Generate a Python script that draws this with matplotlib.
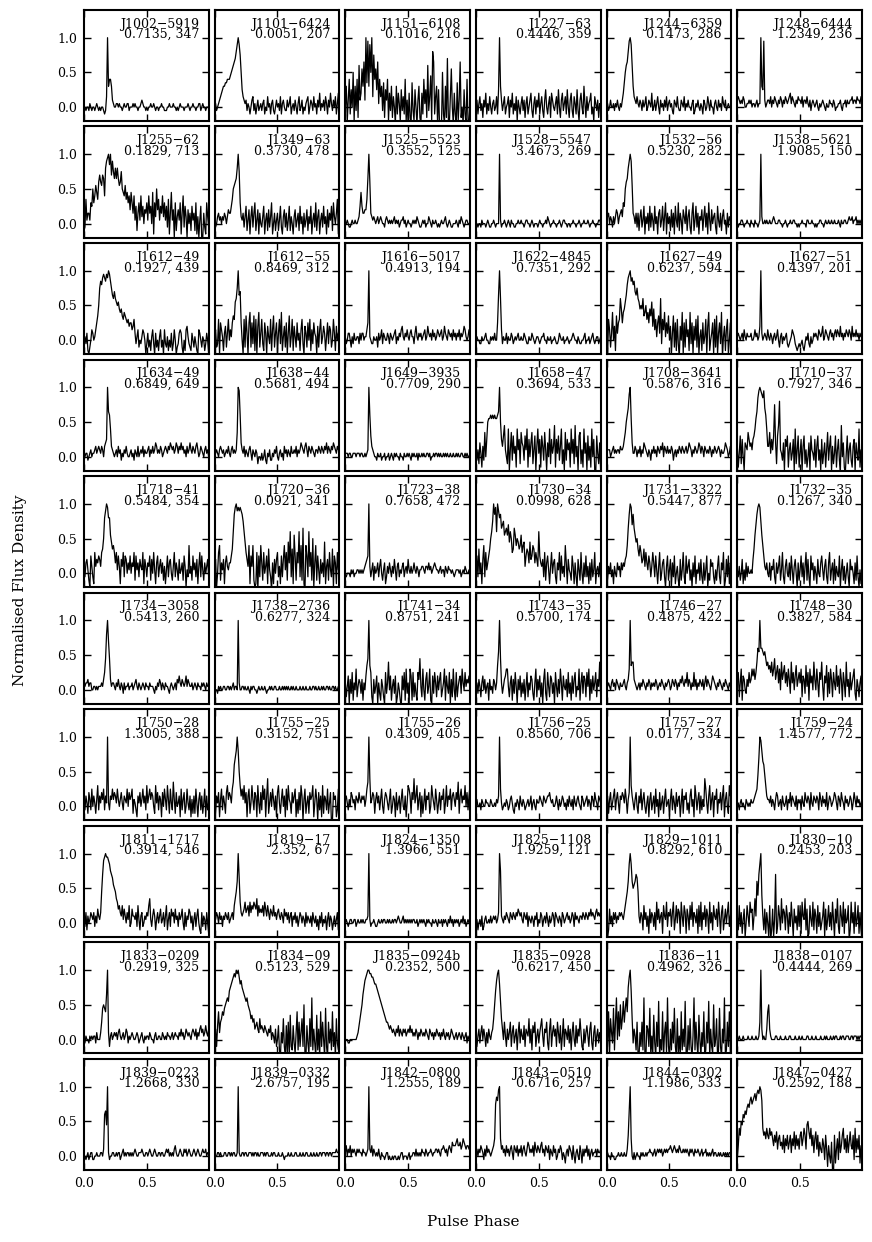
#!/usr/bin/python3

"""Profile impulsów 60 pulsarów: znormalizowana gęstość strumienia od fazy."""

import numpy as np
import matplotlib
matplotlib.use('Agg')
import matplotlib.pyplot as plt


NAZWY = [
    'J1002−5919', 'J1101−6424', 'J1151−6108', 'J1227−63', 'J1244−6359', 'J1248−6444',
    'J1255−62', 'J1349−63', 'J1525−5523', 'J1528−5547', 'J1532−56', 'J1538−5621',
    'J1612−49', 'J1612−55', 'J1616−5017', 'J1622−4845', 'J1627−49', 'J1627−51',
    'J1634−49', 'J1638−44', 'J1649−3935', 'J1658−47', 'J1708−3641', 'J1710−37',
    'J1718−41', 'J1720−36', 'J1723−38', 'J1730−34', 'J1731−3322', 'J1732−35',
    'J1734−3058', 'J1738−2736', 'J1741−34', 'J1743−35', 'J1746−27', 'J1748−30',
    'J1750−28', 'J1755−25', 'J1755−26', 'J1756−25', 'J1757−27', 'J1759−24',
    'J1811−1717', 'J1819−17', 'J1824−1350', 'J1825−1108', 'J1829−1011', 'J1830−10',
    'J1833−0209', 'J1834−09', 'J1835−0924b', 'J1835−0928', 'J1836−11', 'J1838−0107',
    'J1839−0223', 'J1839−0332', 'J1842−0800', 'J1843−0510', 'J1844−0302', 'J1847−0427',
]

# okresy [s] jako tekst, żeby zachować liczbę cyfr
OKRESY = [
    '0.7135', '0.0051', '0.1016', '0.4446', '0.1473', '1.2349',
    '0.1829', '0.3730', '0.3552', '3.4673', '0.5230', '1.9085',
    '0.1927', '0.8469', '0.4913', '0.7351', '0.6237', '0.4397',
    '0.6849', '0.5681', '0.7709', '0.3694', '0.5876', '0.7927',
    '0.5484', '0.0921', '0.7658', '0.0998', '0.5447', '0.1267',
    '0.5413', '0.6277', '0.8751', '0.5700', '0.4875', '0.3827',
    '1.3005', '0.3152', '0.4309', '0.8560', '0.0177', '1.4577',
    '0.3914', '2.352', '1.3966', '1.9259', '0.8292', '0.2453',
    '0.2919', '0.5123', '0.2352', '0.6217', '0.4962', '0.4444',
    '1.2668', '2.6757', '1.2555', '0.6716', '1.1986', '0.2592',
]

DM = [
    347, 207, 216, 359, 286, 236,
    713, 478, 125, 269, 282, 150,
    439, 312, 194, 292, 594, 201,
    649, 494, 290, 533, 316, 346,
    354, 341, 472, 628, 877, 340,
    260, 324, 241, 174, 422, 584,
    388, 751, 405, 706, 334, 772,
    546, 67, 551, 121, 610, 203,
    325, 529, 500, 450, 326, 269,
    330, 195, 189, 257, 533, 188,
]

# Profile, 128 binów fazy na profil.
# Każdy znak to poziom: '#' = -0.25, 'a' = -0.20, 'e' = 0.0, 'o' = 0.5, 'y' = 1.0 (krok 0.05).
PROFILE = [
    'eedeedfedeedefed edeedcdhykmmkgfe effefeedefeeffde eefefeedeefgfeed edeefeefedeedeef eedddeefeeefeede defeeedeeefedeef eedeeffdefeedeee',
    'gfdefghijkkllmmm nopqrsuwywtojhgf gdfeceghdfcegdef dfgcedhefcfgdceg efdhcfgeddgefhce fdgecfhdegcedfgh cegfdhefcgeidfeg dhfcgeifdgehcfig',
    'ekagmcjeoakdmbqg ipkrgylxkwoyhtmp jrfmhkdlbjgmaidk bhe#kcifajdhcmag #ib#ldaje#gkb#ic mfjbqdhnaurchk#j #a#oc#kbsa#hpe#i c#lagrbe#jc#ma#f',
    'egcfhdfbgeicfdhe cfgdehcjykgdfhce fhbgeicfdhagecfh dgbfhcegidbfhcge icfhdbgjecfhbige dfhcjebgidfhcjeb gidbhfcjdagieckf bhdfgiceahfdgbfe',
    'efdegeefdfegedfe giloqruxywqkhgfh fegfdgefhdegfeid egdfhecgefdgehdf gefdcgfeheddgfeh dfegeedfgcdfeged fecgfdehfdgeecfg edgefdhfegdefeef',
    'ghgfgfhgeeffgfge ffefgeffykjxgefg gfhegfhgfegfhgeg fhgfghifhgfegfhg gfheggfhfegdfgfe fgedfefgfedfeegf fegfdeeffgedffge gffgghfggfhggfhf',
    'cdlfhhfkjokmpnlq sqpsrmuwxyvyswtr ururpqtonmplnkmi nkhmfjchkfmgjeih kfmhjenbkgoilfjh mgkfjdlbhnfiakcg ifkbhmdjgaiehcjf hckbgafj#ahdbkgd',
    'fdeghfgegfhgegih hjlopqruytkgfhdg jcfibgjdhkcfibhe dgjbfhcidgkbehcf hcfjdbgidhcfjcge bgidfhcjegbhdfic gejbfhdkcgibfhdj egbidhfjckgehlbg',
    'eefeddefeefeefgj njhhiilryqhgfgfe fgefgfeedfgfefef efgefefdeffgefde feedefefegfeddef efdeegfedfeefede defeefgedefeddee efedfegfedeffeee',
    'eedeedfeeedefedd eefedeeeyfdeefed efedfeeddeefeefe edeffeedefedeeed efeedeefegfedeef eedeefedeffeedee deefeedeefedeefe eefedeefeedeeffe',
    'fghegfdgegiheghi gkjoqruwywphgehd hcgidfjbgehcjdhf cjegbhidfjcgkbhe gcidhbjfdkchfbig ejcgidbhkcfjdhbg ficgjdhbkfcieghd bjfdhcgiefbhdgfe',
    'edeeffedeefeedfe edfeedefygeefefe efeefgfeeeffeede efedeefeeffeeded eefeeedffeeefeed edeeffeedefeefee feefeeefedfeeffe efgffgeffgefefef',
    'efdgbacehgefhjlo tvuwxwvxwyxvtrqs qpopnmnlkmlkjkij jhikgdfhcedfhgea dgcebfhdagcebfhc eahdcfbecgbdheac dghgcaebhifdcbge cfdbahgecfebdgea',
    'ghcdkajhfbgicgke hfjlkpqtyrsjeakc lgajmcjdlbkaimcg kdbjgaifdkbhlcgj agkdmbficjaglcfk bifcjegbhkdaigcj ekbhdjgfaichkdfi gbfjdihcekgbiegh',
    'fdeggecfdgeeffdg eggeffhjyfeddfee fcgefhdgfeegfdgf efghdfegfhifegfh feghffdgifegfgef ghefigfgehfgefhg fghefigfehgfgehf gegfhegfgihfefhg',
    'ffeeddfeefgeeddf efegeejryqhdfeeg dfeegfdefefgeefe egfeddfeegfedeff edeffgeedfeefdee feddegfeefdeefed eefgfeedfeddeefg deefdefgedeffdef',
    '#akhcgmeiblgjkqn jmnpruwxyvwuvsrt qpnonqlmokmjnlpi nhkfjlgqdkhmfjgl eiaglcjbkd#iemaj ckfhbmdjaiekclaf hbjdfkaimbegjakc lagjdm#fibhkaejd',
    'fgfefgehfegfffge efhfgefiygefgfeh fegfdfgefhecfgdf efgdcdefhgfdcbcd cdecbdfegdcfdegf gfehgfgiefhgfegh fgeghfhgfifgegfh gfhgeifgfhfgegff',
    'deffdefgeffghfgh gfhgehijyrqmhgfe fgehfgdfegfhfeef gefdgfehefgfhegf fghegfhfgihfgfhg efghgfhgihghfgih fhgighfgehfgigfh gfhigefhgfeghfge',
    'efgfeghgfgefgfhf eghfgfglyxqigfhe gfeghfdgfegfceed fdegdcfegddfegfh edfgefdhfgegfehf fgfhegfgihgfhige hgfhgfeggfhgfhgf hgifhgfhgihgfhgg',
    'fffeffeefffefffe ffeefefgyqkhgfee dfeefdeefdeefdef edfefeedfeedfeef efedfefeefdfeefe feeffefdeefeffef efeefefefeefeefe efefeeffeefefeef',
    'hdgcifbhdlejoppq pqpqppqryojhknge cmagldkfhbmgjcli hdkgmbjeilcgkahm fjbkhdlgaiemcjfh nbjfkdhmcgaldjgi bmfjcnehaklcgbmf iakdhbmeja#kfcia',
    'fgggefghfgfggfhg ghjloqswypiffhge gfhegfihgfegfdgf hfgehgfhgiehgfhf gfhgdfgegfhgfhgf ghfgihgegfhgfgih fhgehgfgfhgegfhg fghgegffgihgefhg',
    'hbfkcjeaihgljhig jkmprvxyxwvxsqmh hlfjgkticknugfdi ajhkbgidfjamcgkb fjahkcgbeiakgfdj bhkdgajcfibgldhk ahcfkbgjdaneib#f kcgidbhjaifdmbga',
    'gdhifcajgdbkgihj igklouwyxuupnlmk hkfjgbigkdjiehfj ehgkcjfhdigfkbig dhgjciekfbhjdgie hcgbfjdhiecgkdhf ciefhcjgafdmegcj fhdibgkdjfchegid',
    'hiaekmchfibhjgfh hjlqvxywxwxwvtqn kigmbjgmcabk#jdm hckegjblfd#hbiei kdgbjdimfkcnhqdl bpjckhqdmcrb#mjd qgkcoahmcjfbiehd nbgickfdlajhbkfi',
    'ddeeedfefdeeffef efefghijygdfhcge fhdgiecfhbdgehfd geifcghdfeghdfge ifegefhfegfdffgg feggfhfgefghgffe fgeffdgfegffefed efffefdefegfeefd',
    'cjdlehbimdkfhjlo qtyvxqywuvrstpqr psnqoklrpmonlmpk mngjlkhnijmlhkig qjhgidkchjfbgkeh idbhfkcjegdmhbif ecjgbhdaifckebhd jdgbhcidfkbfgdhc',
    'fcgehdfbgedhfgdh fhgijmrvyxsvrpno ljmkhilgkhfjhdgk hdjfbgkcehidagjc fiahdjbegcaicfkd bjegicfahdjbfehc idbhcfjaecighdbf cgjdbhfkacidjbhg',
    'fdgceibfchdgeefe ilpsvxyxtpmjgfhe dhcgfidbhegjcfkd bgiedhcjfbgieahc fjdhbgkcidajfhcg ebiedhjfcgidbhkc fhbicgedjaficgbe hdaifgebhcjdafbd',
    'ffgghfggeeffefef ffgfhjnuysnhfggf egfhfegfdgeffgef fgefghfegfefgfeg ffegfffedfegfhge gfegffedfgfefgeh gigfhgfgifhgffge fgfegffegfgfegff',
    'eeedfefeeffeeffe fefgeffeygeeffef eefedfeffeedefee feefedeefefeeffe eefeefefefefeefe feefeeefeefeefee efeeffefeefeefef eeffefeeffefeeff',
    'gcfiahdjbgekcfhg dhbgeilnyljcahdf iagdbhfcajdgmeib fhdiacgeb#iejbkd gakibjcgdbjhnfck ebhjdfkbaidjgcie hjcegkbifdjahcke bjcfhidkgejfhgie',
    'egdhfcgiehdfgbhe fdhgeglpyngdfhik kfcgibhdjfaheicg dhbfjcgeihdbgkch eicgahkdbjfcihdg ajfchdkgbifehcjd gbidhjcfekbgjdih cjfkbhdiegjchfmc',
    'efgfeghfgehgfegf fghfeghkylmmhgfe fgegfhgfegfhgegf gfhgefgfhgfegfgh gefhgfhgegfhgigf hgjfhgegfjfhegfh gfhegifhgfegihgf egfhgfegfhgfegfg',
    'gjcgkbihedhfjghk ikhjmqpyqqpopnlm kljmiknhjlgkemhj lgjfkhdmgjeilfhj gkcihdlfjbkgiemh ekgcjhmfbiglcjdk hcjgelfidkhbjgcm fhcjegikdbhfcgib',
    'gdhfcigdjehfcgkd hfigjdhfyfdhgjgi hfjgegifdhgfjeig hjcgfdbhfiegjfhd kfhjgiheckfidhgb iejgdkgcjfdlgcie fhbjdgicejfdhbgc hcjfbgidhcfjbhdf',
    'gchfibgjdhfcikgi hfjlqsuyuokhjgkf ibhjcfkgdihbkfci dkgjbhmcfiejgdhb ikfcgjehbjdkgfci fhjbgcidkhagjcfh cighkbfjgaidhbkc hgdjcfi#aighbdjc',
    'ghfdgeihfgdhgfig fhghegjlymfgihcg ifhdgjecgihfdgjc ehgbidfhcgjedhbf kjhcigmfhkdgibhc fjdhgicekhfdjgcf idhgjcfkehgjdhig eiglchjfhgkeidhk',
    'fgeefdgfeegffeeg feefegfhyjfdefeg fdeghfdcfegfdhfe gfdefgefhdfgedgf fhgfehgfghhigfge efhfdgefhgefdgeh fegdhfeghfedhgef ghegfdhgeigfdhgf',
    'fhcgidfhjdgifchg ihfjgcgiykhfdgie chfjdgiecfhbgidf hcjegbidfhcgjefg bgjdhfcieghbfjch gidfchjegbkhdgic hdgemjfchkdgibhg jcgfidhkbgieckhi',
    'efdfgefedgfefegf fghijnsyxurqnkhg gfhegfdgihefgdhf efhdgfiehgfehdgf gdhfeigfhgdifehg fhgdigehfgeidfhg efgihfdhgeigfdhf gefhgdfigehfgefg',
    'gdhcgefhgfhdgeig fhnswxyxxwvtsrpo nlkijhgjfigehfjd eiggfhdjfcghdegf hgjlfdgigcfhegie fhdgjcfhdigheifg dhfgiechdgfihegc fhdgiecbhdgfcheb',
    'gfhgehfgdgfhgfhe fghfjlnqyrkhghik hijgkhjikjilgjhi hjgkigjhfihgjghf higfhgeighfheghd gfhegdfhgegfdheg fegdhfegdfcgehdf egcfhdgfcegdfhcg',
    'efedeffeeffdefee fefeeffgyfdeefed defeefeffeefefee feffefgfeefgefef efefeffeefdefefe fedfefeedfeefedf eefdfefedfegefdf efefdefegefdefef',
    'ffcefdgcdfgeefeg efgfgefhytgfegfh gfehgfhgfhgihghf ehgfhdgfegfdgfhd fehgdfgehfdgefhg dhgfegfdhgefghfg efhgdhfgfeggfhgf hgfhgighgfhighgh',
    'eaciegdhfhegfhgh gfhjlnqvyvqopqsr ngehgcjfhdgbiehg dhckfieghbjgfkdh gidhkcfjeihbkgdj hbigcjfkdhgeibjd kchfjdigbkehcjgf idkgbhjcfiehkdgi',
    'gcjdhbfiaejgdkhi cglgqmsvymgcibhe aj#ciafsbdjgclei hcjgbhdkfaiegcjd jbkgflciabjfdkci gbjdhcegkaicfjdh ckfaieldbjgdkbie fj#ckehbkdfjbhc#',
    'edfeedfefeffdgee egjnonmrygcfgefg fgeghfefgefhgdfe fgfeefgfdefgedfe ffegfeedfgeeffee gfefegffefgefgff egfhfgefhgfgfegh gfhegfhighfgigfh',
    'fhcimgjkmlnopqps tuvwxwyxywuvtsrq pqonmkljkhijhgkh ihgihgfhgiegfdhc eib#gdkc#iaj#lcb idagmbjcgkcoa#id akcqbhd#lbh#mcje #nc#jdhbmcg#kdbh',
    'eeeddeeeeeeefgik mortvwxyyxxwwvuu tsrqponmlkjjihih ghgfhgifhgfhghfg hgighfgfhgegfhgf gfhgfehgfgegfhgf gegfhfegfgefhgfe fgefgfegfefgdfef',
    'gcfhdgiehfcgdhfe ghkosvxyupkhejfc hegjcgidfhbgjdhf eichgfkdhbigjcfh dgikfchgjdbhkcgi fhcjgdibfkchgeid hbgjecidhfkgcbhd gifchjdbgicfhdge',
    'hcmakgdnbjqemfoh kpjnqmtwyskdhfbj a#gcjbqa#ihcn#fa ld#jcp#ebm#gjaqc #hbjdnc#kaf#mbhc pa#ibkc#fqbjd#le #gcm#bjdp#hcaoce k#bnc#hdq#bjcmaf',
    'eefeeefeeeefeeef eeefeefjyhefeehm ohfeeeeffeeefeee efeeeffeeeefeeef eefeeeeffeeefeee feeeefeeefefeeef eefeffeeefeffeef ffeeffefffefeffe',
    'eedefdeffddeefee effegqrnyfdeeffe efeffdefgefeffef efefgfeefffgfeef fefgfeefgfeeffef feefgfgefefeghfe efgfeegfgefgfeef gfefgfeefgffgeff',
    'eeeffefeeeffeeff efeffeefyfeeffef feefffefeffefeef ffefeffeeefeffee efeeefedeeefeefe eeffeeefeefeeffe eefeefeefeeffeff feffeffeffffgfff',
    'fhegfhegfgfegfgf fegffefgygfhegfe fegedfeedeffdedd edeeddedeffdeeed efdeeffegefefegf fegfeffgfeffggfg fegghgfgeghgfihh hijhhighjihghhgh',
    'fgegfhgfdgehfgfe fghjtvuxyjghfgeh fgeghfdhgfhegfhe ghfegihfgfheigfh gfhifgehgfhdgfeh fgdegfhgdfecfgeh gfdhecfgedhfcgeg fhegdfgeffgegffg',
    'efeedfeeddeefeef eefeegkryjedfdef eedfefeefeffgffe fgefgfgfgefgfgfg ghgfghgfgfhgffgf gfgfegfgfegffgfe fgeffgefefefgeff eefefeefefefeffe',
    'dhmkonqprqstsuvt uvwuwxwyxumkljmk jmkljhkilgjkhigk fjhkgikfjhlgkhjg klhjmkgnoljmhkfj lgkeigfjhdkgbhec ia#kcgjdlfhkmgjf kfilhgkdmfjgkchf',
]

POZIOMY = '#abcdefghijklmnopqrstuvwxy'
LICZBA_BINÓW = 128


def dekoduj(profil):
    znaki = profil.replace(' ', '')
    return np.array([(POZIOMY.index(z) - 5) * 0.05 for z in znaki])


def main():
    plt.rcParams['font.family'] = 'DejaVu Serif'
    plt.rcParams['font.size'] = 9

    fig, osie = plt.subplots(10, 6, figsize=(8.72, 12.42), dpi=100,
                             sharex=True, sharey=True)
    fig.subplots_adjust(left=0.0963, right=0.9885, top=0.992, bottom=0.058,
                        wspace=0.048, hspace=0.05)

    for i, ax in enumerate(osie.flat):
        y = dekoduj(PROFILE[i])
        faza = np.arange(len(y)) / LICZBA_BINÓW
        ax.plot(faza, y, color='black', linewidth=0.9)
        ax.set_xlim(0, (LICZBA_BINÓW - 1) / LICZBA_BINÓW)
        ax.set_ylim(-0.2, 1.4)
        ax.set_xticks([0.0, 0.5])
        ax.set_yticks([0.0, 0.5, 1.0])
        ax.tick_params(direction='in', top=True, right=True, length=5,
                       width=1, labelsize=9, pad=5)
        for spine in ax.spines.values():
            spine.set_linewidth(1.5)
        # nazwa pulsara, a pod nią okres i miara dyspersji
        ax.text(0.925, 0.93, f'{NAZWY[i]}\n{OKRESY[i]}, {DM[i]}',
                transform=ax.transAxes, ha='right', va='top',
                multialignment='right', linespacing=0.75, fontsize=9)

    fig.text(0.5424, 0.016, 'Pulse Phase', ha='center', va='center', fontsize=11)
    fig.text(0.023, 0.525, 'Normalised Flux Density', ha='center', va='center',
             rotation='vertical', fontsize=11)

    fig.savefig('out.png', dpi=100)


if __name__ == '__main__':
    main()
